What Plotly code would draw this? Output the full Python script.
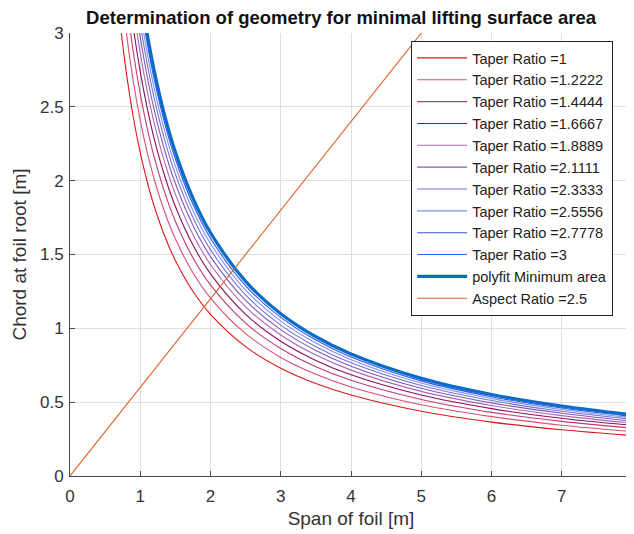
import plotly.graph_objects as go

# Span sample points [m]
span = [0.6, 0.7, 0.8, 0.9, 1.0, 1.1, 1.2, 1.35, 1.5, 1.75, 2.0, 2.5, 3.0, 3.5, 4.0, 5.0, 6.0, 7.0, 8.0]

taper_labels = ["1", "1.2222", "1.4444", "1.6667", "1.8889", "2.1111", "2.3333", "2.5556", "2.7778", "3"]

chord_tr_1_0000 = [3.650, 3.129, 2.738, 2.433, 2.190, 1.991, 1.825, 1.622, 1.460, 1.251, 1.095, 0.876, 0.730, 0.626, 0.548, 0.438, 0.365, 0.313, 0.274]
chord_tr_1_2222 = [4.015, 3.442, 3.012, 2.676, 2.409, 2.190, 2.008, 1.784, 1.606, 1.376, 1.205, 0.964, 0.803, 0.689, 0.603, 0.482, 0.402, 0.344, 0.301]
chord_tr_1_4444 = [4.314, 3.698, 3.236, 2.875, 2.588, 2.353, 2.157, 1.917, 1.725, 1.478, 1.294, 1.035, 0.863, 0.740, 0.648, 0.518, 0.431, 0.370, 0.324]
chord_tr_1_6667 = [4.563, 3.911, 3.423, 3.041, 2.738, 2.489, 2.281, 2.028, 1.825, 1.564, 1.369, 1.095, 0.913, 0.783, 0.685, 0.548, 0.456, 0.391, 0.343]
chord_tr_1_8889 = [4.773, 4.092, 3.580, 3.182, 2.864, 2.604, 2.387, 2.121, 1.909, 1.636, 1.432, 1.146, 0.955, 0.819, 0.717, 0.573, 0.477, 0.409, 0.358]
chord_tr_2_1111 = [4.953, 4.246, 3.716, 3.302, 2.972, 2.702, 2.477, 2.201, 1.981, 1.698, 1.486, 1.189, 0.991, 0.850, 0.744, 0.594, 0.495, 0.425, 0.372]
chord_tr_2_3333 = [5.110, 4.381, 3.833, 3.406, 3.066, 2.787, 2.555, 2.271, 2.044, 1.751, 1.533, 1.226, 1.022, 0.876, 0.767, 0.613, 0.511, 0.438, 0.384]
chord_tr_2_5556 = [5.247, 4.498, 3.936, 3.497, 3.148, 2.862, 2.623, 2.332, 2.099, 1.798, 1.574, 1.259, 1.049, 0.900, 0.788, 0.630, 0.525, 0.450, 0.394]
chord_tr_2_7778 = [5.368, 4.601, 4.027, 3.578, 3.221, 2.928, 2.684, 2.385, 2.147, 1.840, 1.610, 1.288, 1.074, 0.921, 0.806, 0.644, 0.537, 0.460, 0.403]
chord_tr_3_0000 = [5.475, 4.694, 4.107, 3.650, 3.285, 2.987, 2.738, 2.433, 2.190, 1.877, 1.643, 1.314, 1.095, 0.939, 0.822, 0.657, 0.548, 0.470, 0.411]

chord_polyfit = [5.480, 4.698, 4.111, 3.654, 3.289, 2.991, 2.742, 2.437, 2.194, 1.881, 1.647, 1.318, 1.099, 0.943, 0.826, 0.661, 0.552, 0.474, 0.415]

ar_span = [0.0, 8.0]
ar_chord = [0.0, 4.8]

x_ticks = [0, 1, 2, 3, 4, 5, 6, 7, 8]
y_ticks = [0, 0.5, 1, 1.5, 2, 2.5, 3]
y_tick_text = ["0", "0.5", "1", "1.5", "2", "2.5", "3"]

taper_series = [chord_tr_1_0000, chord_tr_1_2222, chord_tr_1_4444, chord_tr_1_6667, chord_tr_1_8889,
                chord_tr_2_1111, chord_tr_2_3333, chord_tr_2_5556, chord_tr_2_7778, chord_tr_3_0000]

taper_colors = ["#d81818", "#d85070", "#c03c72", "#8c1060", "#a868b4",
                "#8458b8", "#7272d6", "#7c94f0", "#3454e0", "#2c6cf0"]

FONT = "Liberation Sans, Arial, Helvetica, sans-serif"

fig = go.Figure()
for lab, vals, col in zip(taper_labels, taper_series, taper_colors):
    fig.add_trace(go.Scatter(x=span, y=vals, mode="lines", name="Taper Ratio =" + lab,
                             line=dict(color=col, width=1.1, shape="spline", smoothing=1.0)))

fig.add_trace(go.Scatter(x=span, y=chord_polyfit, mode="lines", name="polyfit Minimum area",
                         line=dict(color="#0a6cc8", width=3.2, shape="spline", smoothing=1.0)))
fig.add_trace(go.Scatter(x=ar_span, y=ar_chord, mode="lines", name="Aspect Ratio =2.5",
                         line=dict(color="#e0622a", width=1.1)))

axis_common = dict(
    showgrid=True, gridcolor="#dfdfdf", gridwidth=1,
    showline=True, linecolor="#4a4a4a", linewidth=1,
    ticks="inside", ticklen=5, tickcolor="#4a4a4a",
    zeroline=False, mirror=False, automargin=False,
    ticklabeloverflow="allow",
    tickfont=dict(family=FONT, size=17, color="#333333"),
)

fig.update_layout(
    width=626, height=526,
    margin=dict(l=62, r=2, t=25, b=58),
    paper_bgcolor="white", plot_bgcolor="white",
    title=dict(text="<b>Determination of geometry for minimal lifting surface area</b>",
               font=dict(family=FONT, size=18.5, color="#111111"),
               x=0.532, xref="container", xanchor="center",
               y=0.995, yref="container", yanchor="top", pad=dict(t=0, b=0)),
    xaxis=dict(range=[0, 8], tickvals=x_ticks, ticklabelstandoff=5,
               title=dict(text="Span of foil [m]", standoff=6,
                          font=dict(family=FONT, size=19, color="#333333")),
               **axis_common),
    yaxis=dict(range=[0, 3], tickvals=y_ticks, ticktext=y_tick_text, ticklabelstandoff=2,
               title=dict(text="Chord at foil root [m]", standoff=8,
                          font=dict(family=FONT, size=19, color="#333333")),
               **axis_common),
    legend=dict(x=0.607, y=0.982, xanchor="left", yanchor="top",
                bgcolor="white", bordercolor="#222222", borderwidth=1,
                font=dict(family=FONT, size=14.5, color="#222222"),
                tracegroupgap=0, itemwidth=50),
    showlegend=True,
)

fig.write_html("out.html")
